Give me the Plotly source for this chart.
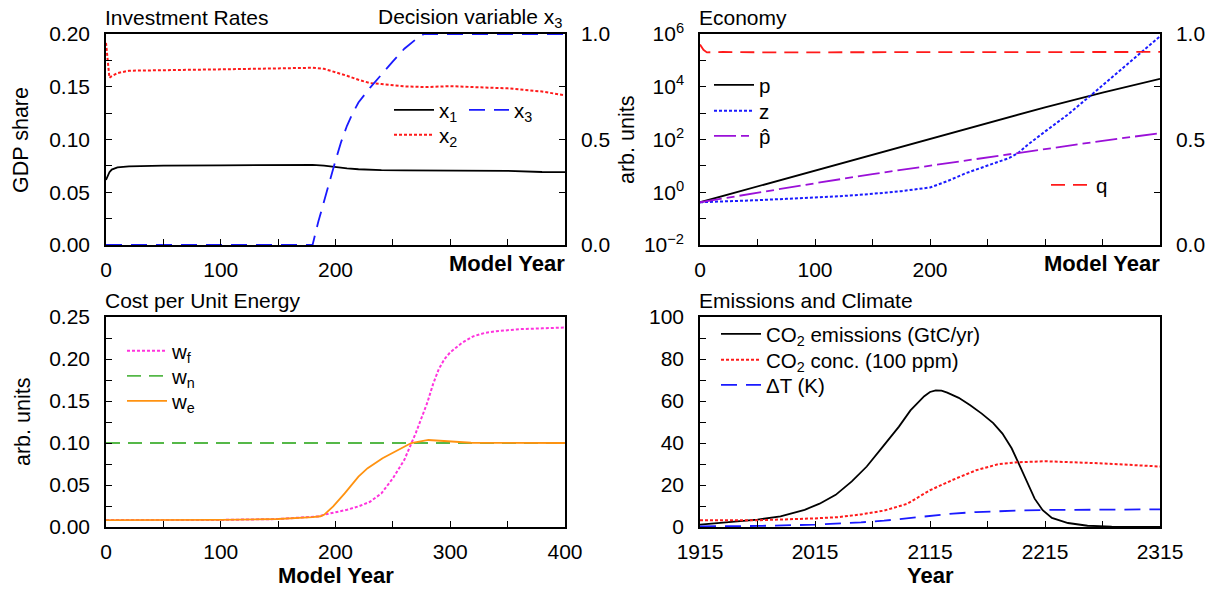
import plotly.graph_objects as go

FONT = "Liberation Sans, Arial, sans-serif"
W, H = 1216, 590

# ---------------- Investment rates (model years) ----------------
inv_year = [0, 3, 5, 10, 20, 50, 100, 150, 180, 190, 200, 210, 220, 230, 240,
            260, 280, 300, 320, 330, 350, 380, 400]
x1_share = [0.0617, 0.0690, 0.0715, 0.0735, 0.0746, 0.0752, 0.0755, 0.0757, 0.0759,
            0.0752, 0.0738, 0.0726, 0.0718, 0.0712, 0.0709, 0.0708, 0.0706, 0.0706,
            0.0702, 0.0708, 0.0703, 0.0692, 0.0690]
x2_share = [0.1915, 0.1585, 0.1600, 0.1630, 0.1652, 0.1655, 0.1665, 0.1674, 0.1680,
            0.1670, 0.1640, 0.1604, 0.1566, 0.1535, 0.1525, 0.1503, 0.1497, 0.1506,
            0.1497, 0.1495, 0.1485, 0.1455, 0.1418]
x3_year = [0, 180, 185, 190, 195, 200, 205, 210, 215, 220, 230, 240, 250, 260, 270, 277, 400]
x3_value = [0.0, 0.0, 0.11, 0.21, 0.31, 0.40, 0.49, 0.565, 0.625, 0.675, 0.745, 0.81,
            0.87, 0.93, 0.975, 1.0, 1.0]

# ---------------- Economy ----------------
p_year = [0, 50, 100, 150, 200, 250, 300, 350, 400]
p_value = [0.417, 1.66, 6.46, 25.7, 100, 417, 1660, 6030, 19950]
z_year = [0, 25, 50, 75, 100, 125, 150, 175, 200, 215, 231, 250, 269, 277, 285,
          300, 320, 337, 360, 380, 400]
z_value = [0.417, 0.447, 0.501, 0.562, 0.631, 0.724, 0.871, 1.10, 1.51, 2.63, 5.25,
           10.2, 20.0, 31.6, 63.1, 200, 891, 3720, 26300, 141000, 813000]
phat_year = [0, 50, 100, 150, 200, 250, 300, 350, 400]
phat_value = [0.417, 0.977, 2.19, 4.90, 10.2, 21.9, 44.7, 89.1, 174]
q_year = [0, 3, 6, 20, 60, 100, 150, 200, 250, 300, 350, 400]
q_value = [0.95, 0.925, 0.913, 0.915, 0.913, 0.914, 0.913, 0.914, 0.914, 0.914, 0.915, 0.915]

# ---------------- Cost per unit energy ----------------
wf_year = [0, 50, 100, 150, 170, 180, 185, 190, 200, 210, 220, 230, 240, 250, 260,
           266, 270, 280, 285, 290, 295, 300, 305, 310, 320, 330, 340, 360, 380, 400]
wf_value = [0.0082, 0.0082, 0.0084, 0.0095, 0.0108, 0.0118, 0.0126, 0.0146, 0.0174,
            0.0205, 0.0245, 0.0300, 0.0400, 0.0580, 0.0800, 0.1000, 0.1120, 0.1480,
            0.1700, 0.1880, 0.2000, 0.2080, 0.2140, 0.2190, 0.2270, 0.2310, 0.2330,
            0.2355, 0.2365, 0.2375]
wn_year = [0, 400]
wn_value = [0.1, 0.1]
we_year = [0, 50, 100, 150, 170, 180, 187, 190, 198, 208, 220, 228, 241, 255, 266,
           281, 301, 318, 400]
we_value = [0.0082, 0.0082, 0.0084, 0.0095, 0.0108, 0.0118, 0.0128, 0.0145, 0.0245,
            0.0400, 0.0600, 0.0700, 0.0819, 0.0926, 0.1000, 0.1036, 0.1015, 0.1003, 0.1000]

# ---------------- Emissions and climate ----------------
em_year = [1915, 1947, 1965, 1985, 2006, 2019, 2033, 2047, 2060, 2074, 2088, 2098,
           2105, 2110, 2115, 2120, 2125, 2130, 2140, 2150, 2160, 2170, 2178, 2186,
           2192, 2199, 2206, 2213, 2221, 2235, 2252, 2273, 2315]
em_value = [1.1, 2.5, 3.5, 5.1, 8.2, 11.1, 15.3, 21.7, 28.8, 38.3, 47.8, 55.5, 59.5,
            62.3, 64.3, 65.1, 64.9, 64.0, 61.5, 58.0, 54.0, 49.5, 44.5, 37.5, 30.4,
            21.5, 13.5, 8.0, 4.3, 1.9, 0.6, 0.16, 0.05]
conc_year = [1915, 1965, 2015, 2035, 2055, 2075, 2095, 2115, 2135, 2155, 2175, 2191,
             2215, 2235, 2255, 2275, 2295, 2315]
conc_value = [3.2, 3.2, 4.1, 4.7, 6.0, 7.8, 11.0, 17.5, 22.5, 27.0, 30.0, 30.8, 31.3,
              31.0, 30.5, 30.0, 29.4, 28.8]
dT_year = [1915, 1965, 2015, 2035, 2055, 2075, 2095, 2115, 2135, 2155, 2175, 2195,
           2215, 2255, 2315]
dT_value = [0.3, 0.5, 1.1, 1.6, 2.2, 3.0, 4.1, 5.4, 6.4, 7.1, 7.6, 7.9, 8.1, 8.2, 8.4]

# labelled decades on the log axis, plus the unlabelled ones in between
log_major = [1e-2, 1e0, 1e2, 1e4, 1e6]
log_major_text = ["10<sup>−2</sup>", "10<sup>0</sup>", "10<sup>2</sup>",
                  "10<sup>4</sup>", "10<sup>6</sup>"]
log_minor = [1e-1, 1e1, 1e3, 1e5]


def px(x):
    return x / W


def py(y):
    return 1 - y / H


COL_L = [px(106), px(565)]
COL_R = [px(700), px(1160)]
ROW_T = [py(245), py(34)]
ROW_B = [py(527), py(317)]

RED = "#ff1a1a"
BLUE = "#1a1aff"
PURPLE = "#9a10d8"
MAGENTA = "#ff33dd"
GREEN = "#55b848"
ORANGE = "#ff9210"

fig = go.Figure()

# each legend entry gets its own small legend box, placed by (left px, row centre px)
legend_boxes = {}


def line(x, y, name, color, dash, xa, ya, key, pos, width=1.8):
    legend_boxes[key] = pos
    fig.add_trace(go.Scatter(x=x, y=y, name=name, mode="lines",
                             line=dict(color=color, dash=dash, width=width),
                             xaxis=xa, yaxis=ya, legend=key))


line(inv_year, x1_share, "x<sub>1</sub>", "black", "solid", "x", "y", "legend", (389, 109))
line(inv_year, x2_share, "x<sub>2</sub>", RED, "3px,2px", "x", "y", "legend2", (389, 134), 2)
line(x3_year, x3_value, "x<sub>3</sub>", BLUE, "16px,9px", "x", "y2", "legend3", (464, 109))

line(p_year, p_value, "p", "black", "solid", "x2", "y3", "legend4", (709, 84))
line(z_year, z_value, "z", BLUE, "3px,2px", "x2", "y3", "legend5", (709, 110), 2)
line(phat_year, phat_value, "p\u0302", PURPLE, "22px,5px,8px,5px", "x2", "y3", "legend6", (709, 135))
line(q_year, q_value, "q", RED, "14px,8px", "x2", "y4", "legend7", (1046, 184))

line(wf_year, wf_value, "w<sub>f</sub>", MAGENTA, "3px,2px", "x3", "y5", "legend8", (122, 350), 2)
line(wn_year, wn_value, "w<sub>n</sub>", GREEN, "14px,8px", "x3", "y5", "legend9", (122, 375))
line(we_year, we_value, "w<sub>e</sub>", ORANGE, "solid", "x3", "y5", "legend10", (122, 400))

line(em_year, em_value, "CO<sub>2</sub> emissions (GtC/yr)", "black", "solid", "x4", "y6",
     "legend11", (716, 333))
line(conc_year, conc_value, "CO<sub>2</sub> conc. (100 ppm)", RED, "3px,2px", "x4", "y6",
     "legend12", (716, 359), 2)
line(dT_year, dT_value, "ΔT (K)", BLUE, "16px,9px", "x4", "y6", "legend13", (716, 384))

tickfont = dict(family=FONT, size=21, color="black")
base_axis = dict(showgrid=False, zeroline=False, showline=True, linecolor="black",
                 linewidth=1.5, ticks="inside", ticklen=6, tickwidth=1,
                 tickcolor="black", tickfont=tickfont)


def minor(**kw):
    d = dict(ticks="inside", ticklen=6, tickcolor="black", tickwidth=1, showgrid=False)
    d.update(kw)
    return d


def xax(domain, anchor, rng, tickvals, ticktext, minor_dtick, tick0):
    d = dict(base_axis)
    d.update(domain=domain, anchor=anchor, range=rng, tickmode="array",
             tickvals=tickvals, ticktext=ticktext, mirror=True,
             ticklabelstandoff=5, minor=minor(dtick=minor_dtick, tick0=tick0))
    return d


def yax(domain, anchor, rng, dtick, minor_dtick, fmt):
    d = dict(base_axis)
    d.update(domain=domain, anchor=anchor, range=rng, dtick=dtick, tick0=0,
             tickformat=fmt, mirror=True, ticklabelstandoff=10,
             minor=minor(dtick=minor_dtick, tick0=0))
    return d


right_axis = dict(base_axis)
right_axis.update(side="right", range=[0, 1], tickmode="array",
                  tickvals=[0, 0.5, 1.0], ticktext=["0.0", "0.5", "1.0"],
                  ticklabelstandoff=10, minor=minor(dtick=0.25, tick0=0))

model_ticks = [0, 100, 200]

log_axis = dict(base_axis)
log_axis.update(domain=ROW_T, anchor="x2", type="log", range=[-2, 6],
                tickmode="array", tickvals=log_major, ticktext=log_major_text,
                mirror=True, ticklabelstandoff=10,
                minor=minor(tickmode="array", tickvals=log_minor))

fig.update_layout(
    width=W, height=H,
    margin=dict(l=0, r=0, t=0, b=0, autoexpand=False),
    paper_bgcolor="white", plot_bgcolor="white",
    font=dict(family=FONT, size=20, color="black"),
    xaxis=xax(COL_L, "y", [0, 400], model_ticks, ["0", "100", "200"], 50, 0),
    yaxis=yax(ROW_T, "x", [0, 0.2], 0.05, 0.025, ".2f"),
    yaxis2=dict(right_axis, overlaying="y", anchor="x"),
    xaxis2=xax(COL_R, "y3", [0, 400], model_ticks, ["0", "100", "200"], 50, 0),
    yaxis3=log_axis,
    yaxis4=dict(right_axis, overlaying="y3", anchor="x2"),
    xaxis3=xax(COL_L, "y5", [0, 400], [0, 100, 200, 300, 400],
               ["0", "100", "200", "300", "400"], 50, 0),
    yaxis5=yax(ROW_B, "x3", [0, 0.25], 0.05, 0.025, ".2f"),
    xaxis4=xax(COL_R, "y6", [1915, 2315], [1915, 2015, 2115, 2215, 2315],
               ["1915", "2015", "2115", "2215", "2315"], 50, 1915),
    yaxis6=yax(ROW_B, "x4", [0, 100], 20, 10, "d"),
    showlegend=True,
)

leg_common = dict(bgcolor="rgba(0,0,0,0)", borderwidth=0, xanchor="left",
                  yanchor="top", font=dict(family=FONT, size=20.5, color="black"),
                  tracegroupgap=0, itemwidth=40, itemclick=False,
                  itemdoubleclick=False)
fig.update_layout({key: dict(leg_common, x=px(lx), y=py(ly - 19))
                   for key, (lx, ly) in legend_boxes.items()})

ann = []


def text(x, y, s, xanchor="left", size=21, bold=False, angle=0):
    ann.append(dict(x=px(x), y=py(y), xref="paper", yref="paper", text=s,
                    showarrow=False, xanchor=xanchor, yanchor="middle",
                    textangle=angle,
                    font=dict(family=FONT, size=size, color="black",
                              weight="bold" if bold else "normal")))


# panel titles
text(103, 18, "Investment Rates")
text(564, 18, "Decision variable x<sub>3</sub>", xanchor="right")
text(697, 18, "Economy")
text(103, 301, "Cost per Unit Energy")
text(697, 300, "Emissions and Climate")

# axis titles
text(567, 263, "Model Year", xanchor="right", size=22, bold=True)
text(1162, 263, "Model Year", xanchor="right", size=22, bold=True)
text(336, 575, "Model Year", xanchor="center", size=22, bold=True)
text(930, 575, "Year", xanchor="center", size=22, bold=True)
text(21, 140, "GDP share", xanchor="center", size=21.5, angle=-90)
text(627, 140, "arb. units", xanchor="center", size=21.5, angle=-90)
text(23, 422, "arb. units", xanchor="center", size=21.5, angle=-90)

fig.update_layout(annotations=ann)

fig.write_html("out.html")
